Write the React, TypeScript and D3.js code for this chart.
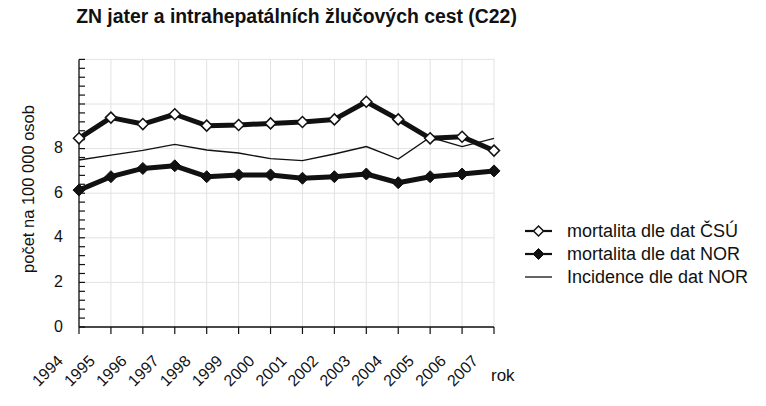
import React from "react";
import * as d3 from "d3";

const years = ["1994","1995","1996","1997","1998","1999","2000","2001","2002","2003","2004","2005","2006","2007"];
const mortalitaCSU = [8.46, 9.39, 9.10, 9.54, 9.03, 9.06, 9.13, 9.19, 9.31, 10.10, 9.31, 8.46, 8.53, 7.91];
const mortalitaNOR = [6.14, 6.74, 7.11, 7.23, 6.74, 6.82, 6.82, 6.67, 6.74, 6.86, 6.47, 6.74, 6.86, 7.0];
const incidenceNOR = [7.49, 7.71, 7.92, 8.19, 7.94, 7.80, 7.55, 7.46, 7.76, 8.09, 7.53, 8.51, 8.09, 8.46];
const yTickLabels = [0, 2, 4, 6, 8];
const yGrid = [0, 2, 4, 6, 8, 10, 12];
const legendLabels = ["mortalita dle dat ČSÚ", "mortalita dle dat NOR", "Incidence dle dat NOR"];
const title = "ZN jater a intrahepatálních žlučových cest (C22)";
const yTitle = "počet na 100 000 osob";
const xTitle = "rok";

const W = 766, H = 406;
const FONT = "'Liberation Sans', Arial, sans-serif";

export default function App() {
  const x = d3.scalePoint<string>().domain(years).range([79, 494]);
  const y = d3.scaleLinear().domain([0, 12]).range([327, 59.4]);
  const minor = d3.range(0, 12.0001, 0.4);
  const line = d3.line<number>().x((_, i) => x(years[i])!).y(d => y(d));
  const diamond = (cx: number, cy: number, r: number) =>
    `M${cx},${cy - r}L${cx + r},${cy}L${cx},${cy + r}L${cx - r},${cy}Z`;
  const ink = "#111";

  return (
    <svg width={W} height={H} style={{ position: "absolute", left: 0, top: 0, background: "#fff" }} fontFamily={FONT}>
      <rect width={W} height={H} fill="#fff" />
      <text x={296.5} y={23} textAnchor="middle" fontSize={19.4} fontWeight="bold" fill={ink}>{title}</text>

      {/* grid */}
      {yGrid.map(v => (
        <line key={"gy" + v} x1={79} x2={494} y1={y(v)} y2={y(v)} stroke="#e2e2e2" strokeWidth={1} />
      ))}
      {years.map(yr => (
        <line key={"gx" + yr} x1={x(yr)} x2={x(yr)} y1={y(12)} y2={y(0)} stroke="#e2e2e2" strokeWidth={1} />
      ))}

      {/* y axis */}
      <line x1={79} x2={79} y1={y(12)} y2={y(0)} stroke={ink} strokeWidth={1.3} />
      {minor.map((v, i) => (
        <line key={"ym" + i} x1={79} x2={85} y1={y(v)} y2={y(v)} stroke={ink} strokeWidth={1.2} />
      ))}
      {yTickLabels.map(v => (
        <text key={"yl" + v} x={63} y={y(v) - 1} dy="0.35em" textAnchor="end" fontSize={16} fill={ink}>{v}</text>
      ))}
      <text transform={`translate(34,189) rotate(-90)`} textAnchor="middle" fontSize={16.5} fill={ink}>{yTitle}</text>

      {/* x axis */}
      <line x1={79} x2={494} y1={y(0)} y2={y(0)} stroke={ink} strokeWidth={1.3} />
      {years.map(yr => (
        <line key={"xt" + yr} x1={x(yr)} x2={x(yr)} y1={y(0)} y2={y(0) + 7} stroke={ink} strokeWidth={1.2} />
      ))}
      {years.map(yr => (
        <text key={"xl" + yr} transform={`translate(${x(yr)! - 15},${362}) rotate(-45)`} textAnchor="end" fontSize={16} fill={ink}>{yr}</text>
      ))}
      <text x={491} y={381} fontSize={17} fill={ink}>{xTitle}</text>

      {/* series */}
      <path d={line(incidenceNOR)!} fill="none" stroke={ink} strokeWidth={1.4} />
      <path d={line(mortalitaNOR)!} fill="none" stroke={ink} strokeWidth={5} strokeLinejoin="round" />
      <path d={line(mortalitaCSU)!} fill="none" stroke={ink} strokeWidth={5} strokeLinejoin="round" />
      {mortalitaNOR.map((v, i) => (
        <path key={"mn" + i} d={diamond(x(years[i])!, y(v), 6)} fill={ink} stroke={ink} strokeWidth={1} />
      ))}
      {mortalitaCSU.map((v, i) => (
        <path key={"mc" + i} d={diamond(x(years[i])!, y(v), 5.5)} fill="#fff" stroke={ink} strokeWidth={1.5} />
      ))}

      {/* legend */}
      {legendLabels.map((lab, i) => {
        const ly = 231 + i * 23;
        return (
          <g key={"lg" + i}>
            <line x1={525} x2={552} y1={ly} y2={ly} stroke={ink} strokeWidth={i < 2 ? 2.2 : 1.3} />
            {i === 0 && <path d={diamond(538.5, ly, 5)} fill="#fff" stroke={ink} strokeWidth={1.5} />}
            {i === 1 && <path d={diamond(538.5, ly, 5.5)} fill={ink} stroke={ink} strokeWidth={1} />}
            <text x={567} y={ly} dy="0.35em" fontSize={18} fill={ink}>{lab}</text>
          </g>
        );
      })}
    </svg>
  );
}
